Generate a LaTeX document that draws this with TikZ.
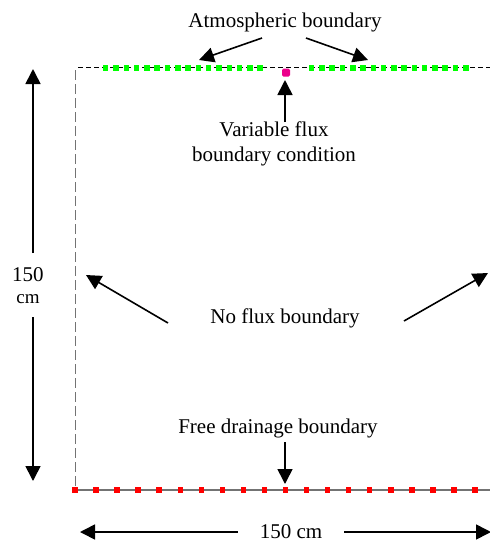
\documentclass[tikz,border=0pt]{standalone}
\usepackage{fontspec}
\setmainfont{Liberation Serif}
\usetikzlibrary{arrows.meta}

\begin{document}
\begin{tikzpicture}[x=1pt, y=-1pt,
	lbl/.style={font=\fontsize{21}{25}\selectfont, inner sep=0pt, align=center},
	bigarrow/.style={line width=1.6pt, -{Triangle[length=15pt,width=15pt]}}]
			%%%%% START %%%%%
			\useasboundingbox (0, 0) rectangle (490, 542);
			
			% domain edges
			\draw[line width=0.8pt, color=black!55, dash pattern=on 10pt off 4pt] (75, 70) -- (75, 490);
			\draw[line width=0.8pt, dash pattern=on 5pt off 3pt] (78, 67.5) -- (490, 67.5);
			\draw[line width=1.5pt, color=black!55] (75, 490) -- (490, 490);
			
			% nodes on the boundaries
			\foreach \i in {0,...,19}
				\fill[red] ({75+21.05*\i-2.75}, 487.25) rectangle +(5.5, 5.5);
			\foreach \i in {0,...,15} {
				\fill[green] ({105.7+10.3*\i-2.75}, 65) rectangle +(5.5, 5.5);
				\fill[green] ({311.7+10.27*\i-2.75}, 65) rectangle +(5.5, 5.5);
			}
			\fill[magenta, rounded corners=1.5pt] (282, 68.5) rectangle (290, 76.5);
			
			% labels
			\node[lbl] (atm) at (285, 22) {Atmospheric boundary};
			\node[lbl] (var) at (274, 144) {Variable flux\\boundary condition};
			\node[lbl] (noflux) at (285, 318) {No flux boundary};
			\node[lbl] (free) at (278, 428) {Free drainage boundary};
			\node[lbl] (depth) at (28, 286) {150\\[-3pt]{\fontsize{19}{22}\selectfont cm}};
			\node[lbl] (width) at (291, 532) {150 cm};
			
			% arrow ends
			\coordinate (atmL) at (262, 38);
			\coordinate (atmLtip) at (199, 60);
			\coordinate (atmR) at (306, 38);
			\coordinate (atmRtip) at (368, 60);
			\coordinate (varT) at (285, 122);
			\coordinate (vartip) at (285, 80);
			\coordinate (nfL) at (168, 323);
			\coordinate (nfLtip) at (86, 275);
			\coordinate (nfR) at (404, 321);
			\coordinate (nfRtip) at (488, 273);
			\coordinate (freeT) at (285, 442);
			\coordinate (freetip) at (285, 484);
			
			\draw[bigarrow] (atmL) -- (atmLtip);
			\draw[bigarrow] (atmR) -- (atmRtip);
			\draw[bigarrow] (varT) -- (vartip);
			\draw[bigarrow] (nfL) -- (nfLtip);
			\draw[bigarrow] (nfR) -- (nfRtip);
			\draw[bigarrow] (freeT) -- (freetip);
			
			% dimensions
			\coordinate (dimT) at (33, 69);
			\coordinate (dimB) at (33, 481);
			\coordinate (dimL) at (80, 532);
			\coordinate (dimR) at (491, 532);
			\draw[bigarrow] (33, 253) -- (dimT);
			\draw[bigarrow] (33, 317) -- (dimB);
			\draw[bigarrow] (width.west) ++(-22, 0) -- (dimL);
			\draw[bigarrow] (width.east) ++(22, 0) -- (dimR);
			
			%%%%% END %%%%%
\end{tikzpicture}
\end{document}
